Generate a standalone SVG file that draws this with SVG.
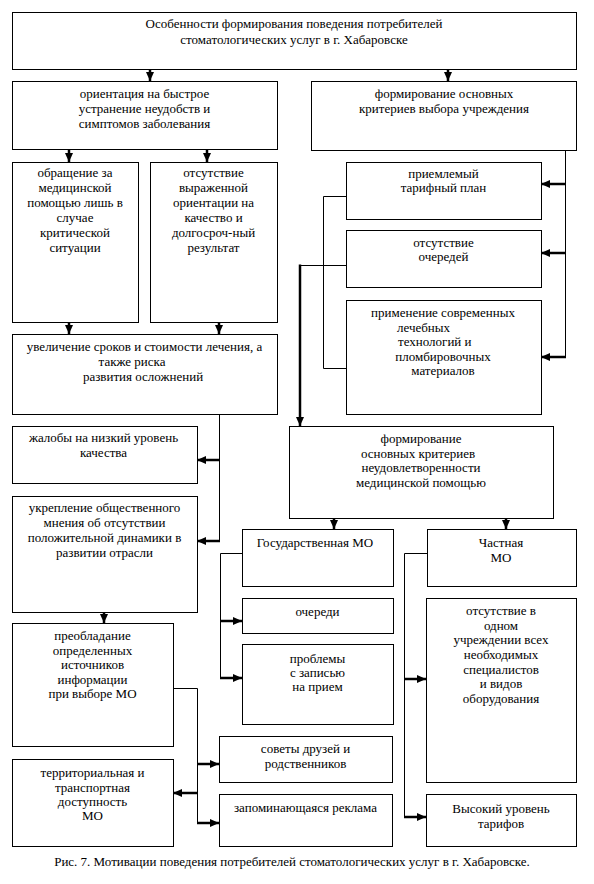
<svg xmlns="http://www.w3.org/2000/svg" width="594" height="884" viewBox="0 0 594 884">
<style>
.box{fill:#fff;stroke:#000;stroke-width:1}
text{font-family:'Liberation Serif','Times New Roman',serif;font-size:13px;fill:#000;text-anchor:middle}
.st{text-anchor:start}
.ln{fill:none;stroke:#000;stroke-width:1}
.ar{fill:none;stroke:#000;stroke-width:2.5;marker-end:url(#ah)}
</style>
<defs>
<marker id="ah" markerUnits="userSpaceOnUse" markerWidth="9" markerHeight="8" refX="9" refY="4" orient="auto">
<path d="M0,0 L9,4 L0,8 Z" fill="#000"/>
</marker>
</defs>
<rect width="594" height="884" fill="#fff"/>

<g id="connectors">
<path class="ar" d="M150,69 V81"/>
<path class="ar" d="M448,69 V81"/>
<path class="ar" d="M69,149 V162"/>
<path class="ar" d="M207,149 V162"/>
<path class="ar" d="M69,322 V334"/>
<path class="ar" d="M219,322 V334"/>
<path class="ln" d="M219.5,414 V541"/>
<path class="ar" d="M220,460 H197"/>
<path class="ar" d="M220,541 H197"/>
<path class="ar" d="M104,612 V623"/>
<path class="ln" d="M173,688.5 H197.5 V823"/>
<path class="ar" d="M197,764 H219"/>
<path class="ar" d="M198,793 H173"/>
<path class="ar" d="M197,823 H219"/>
<path class="ln" d="M565.5,150 V357"/>
<path class="ar" d="M566,184 H541"/>
<path class="ar" d="M566,253 H541"/>
<path class="ar" d="M566,357 H541"/>
<path class="ln" d="M346,196.5 H323.5 V368.5 H346"/>
<path class="ln" d="M346,265.5 H300"/>
<path class="ar" d="M300,264.5 V426"/>
<path class="ar" d="M334,518 V529"/>
<path class="ar" d="M506,518 V529"/>
<path class="ln" d="M242,553.5 H220.5 V678"/>
<path class="ar" d="M220,621 H242"/>
<path class="ar" d="M220,678 H242"/>
<path class="ln" d="M427,553.5 H404.5 V817"/>
<path class="ar" d="M404,679 H426"/>
<path class="ar" d="M404,817 H426"/>
</g>

<g id="n-title"><rect class="box" x="12.5" y="12.5" width="564" height="57"/>
<text x="294" y="28">Особенности формирования поведения потребителей</text>
<text x="294" y="44">стоматологических услуг в г. Хабаровске</text></g>

<g id="n-orient"><rect class="box" x="12.5" y="81.5" width="265" height="68"/>
<text x="144.5" y="98">ориентация на быстрое</text>
<text x="144.5" y="113">устранение неудобств и</text>
<text x="144.5" y="127.5">симптомов заболевания</text></g>

<g id="n-form1"><rect class="box" x="311.5" y="81.5" width="265" height="69"/>
<text x="444" y="98">формирование основных</text>
<text x="444" y="113">критериев выбора учреждения</text></g>

<g id="n-obr"><rect class="box" x="12.5" y="162.5" width="126" height="160"/>
<text x="75" y="177">обращение за</text>
<text x="75" y="192">медицинской</text>
<text x="75" y="207">помощью лишь в</text>
<text x="75" y="222">случае</text>
<text x="75" y="237">критической</text>
<text x="75" y="252">ситуации</text></g>

<g id="n-otsut"><rect class="box" x="150.5" y="162.5" width="127" height="160"/>
<text x="213.5" y="177">отсутствие</text>
<text x="213.5" y="192">выраженной</text>
<text x="213.5" y="207">ориентации на</text>
<text x="213.5" y="222">качество и</text>
<text x="213.5" y="237">долгосроч-ный</text>
<text x="213.5" y="252">результат</text></g>

<g id="n-uvel"><rect class="box" x="12.5" y="334.5" width="265" height="80"/>
<text x="144.5" y="351">увеличение сроков и стоимости лечения, а</text>
<text x="132" y="366">также риска</text>
<text x="143" y="381">развития осложнений</text></g>

<g id="n-zhal"><rect class="box" x="12.5" y="426.5" width="185" height="57"/>
<text x="103.5" y="442">жалобы на низкий уровень</text>
<text x="103.5" y="457">качества</text></g>

<g id="n-ukrep"><rect class="box" x="12.5" y="496.5" width="185" height="116"/>
<text x="104.5" y="512">укрепление общественного</text>
<text x="104.5" y="527">мнения об отсутствии</text>
<text x="104.5" y="542">положительной динамики в</text>
<text x="104.5" y="556.5">развитии отрасли</text></g>

<g id="n-preob"><rect class="box" x="12.5" y="623.5" width="161" height="123"/>
<text x="92.5" y="640">преобладание</text>
<text x="92.5" y="654.5">определенных</text>
<text x="92.5" y="669">источников</text>
<text x="92.5" y="683.5">информации</text>
<text x="92.5" y="698">при выборе МО</text></g>

<g id="n-terr"><rect class="box" x="12.5" y="759.5" width="161" height="87"/>
<text x="92.5" y="777">территориальная и</text>
<text x="92.5" y="791.5">транспортная</text>
<text x="92.5" y="806">доступность</text>
<text x="92.5" y="820">МО</text></g>

<g id="n-sovety"><rect class="box" x="219.5" y="736.5" width="173" height="46"/>
<text x="305.5" y="753">советы друзей и</text>
<text x="305.5" y="768">родственников</text></g>

<g id="n-reklama"><rect class="box" x="219.5" y="794.5" width="173" height="52"/>
<text x="305.5" y="812">запоминающаяся реклама</text></g>

<g id="n-priem"><rect class="box" x="346.5" y="162.5" width="195" height="57"/>
<text x="443.5" y="178">приемлемый</text>
<text x="443.5" y="192">тарифный план</text></g>

<g id="n-ocher1"><rect class="box" x="346.5" y="230.5" width="195" height="57"/>
<text x="443.5" y="247">отсутствие</text>
<text x="443.5" y="261">очередей</text></g>

<g id="n-primen"><rect class="box" x="346.5" y="300.5" width="195" height="114"/>
<text x="443" y="317">применение современных</text>
<text class="st" x="397" y="331.5">лечебных</text>
<text class="st" x="398" y="346">технологий и</text>
<text x="443" y="360.5">пломбировочных</text>
<text x="443" y="375">материалов</text></g>

<g id="n-form2"><rect class="box" x="289.5" y="426.5" width="264" height="92"/>
<text x="421" y="443">формирование</text>
<text x="418" y="457.5">основных  критериев</text>
<text x="421" y="472">неудовлетворенности</text>
<text x="421" y="487">медицинской помощью</text></g>

<g id="n-gos"><rect class="box" x="242.5" y="529.5" width="151" height="57"/>
<text x="315" y="547">Государственная МО</text></g>

<g id="n-chast"><rect class="box" x="427.5" y="529.5" width="149" height="57"/>
<text x="501" y="547">Частная</text>
<text x="501" y="562">МО</text></g>

<g id="n-ocheredi"><rect class="box" x="242.5" y="598.5" width="151" height="35"/>
<text x="317.5" y="616">очереди</text></g>

<g id="n-problemy"><rect class="box" x="242.5" y="644.5" width="151" height="80"/>
<text x="317.5" y="663">проблемы</text>
<text x="317.5" y="677">с записью</text>
<text x="317.5" y="691">на прием</text></g>

<g id="n-odnom"><rect class="box" x="426.5" y="598.5" width="150" height="184"/>
<text x="501" y="615">отсутствие в</text>
<text x="501" y="629.5">одном</text>
<text x="501" y="644">учреждении всех</text>
<text x="501" y="659">необходимых</text>
<text x="501" y="673.5">специалистов</text>
<text x="501" y="688">и видов</text>
<text x="501" y="702.5">оборудования</text></g>

<g id="n-vysokiy"><rect class="box" x="426.5" y="794.5" width="150" height="52"/>
<text x="501" y="813">Высокий уровень</text>
<text x="501" y="828">тарифов</text></g>

<text id="caption" x="292" y="866">Рис. 7. Мотивации поведения потребителей стоматологических  услуг в г. Хабаровске.</text>
</svg>
